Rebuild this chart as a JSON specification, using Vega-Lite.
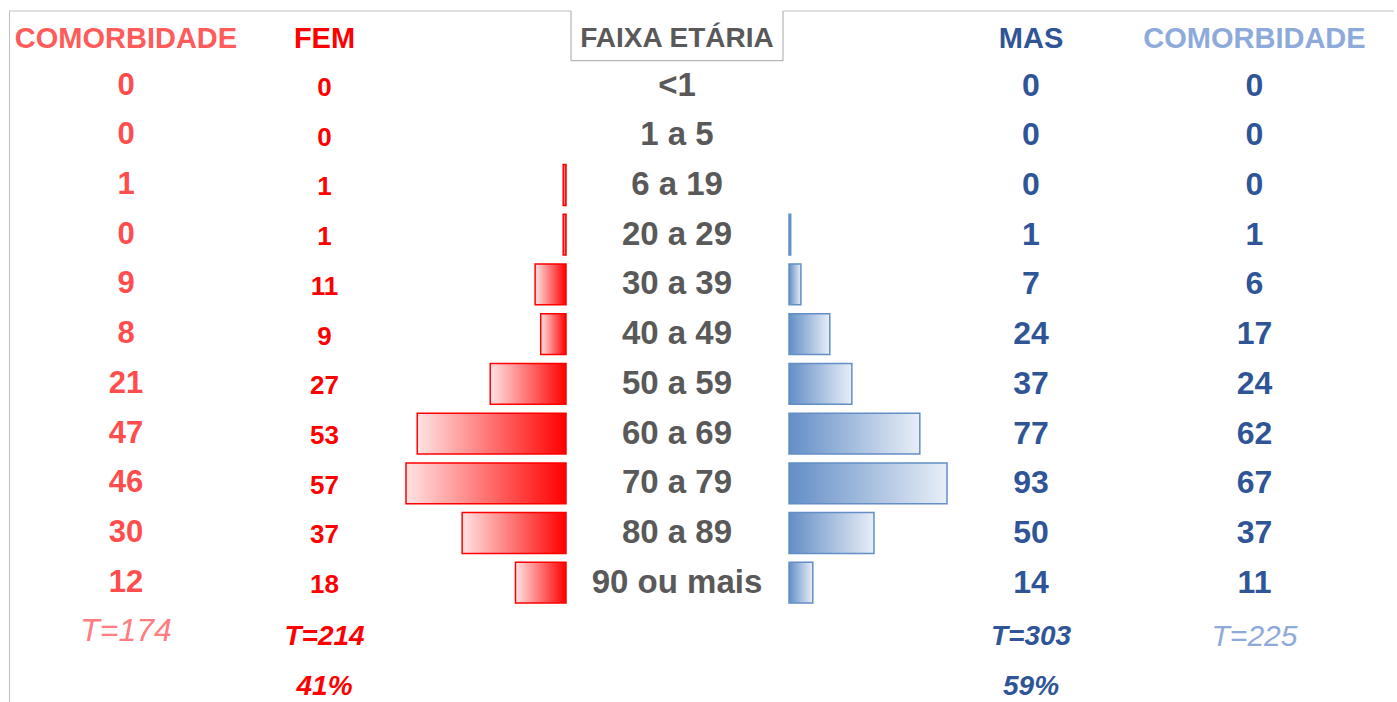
{
  "$schema": "https://vega.github.io/schema/vega-lite/v6.json",
  "padding": {"left": 8, "top": 10, "right": 0, "bottom": 0},
  "autosize": {"type": "pad"},
  "background": "white",
  "spacing": 0,
  "bounds": "flush",
  "config": {"view": {"stroke": null}, "text": {"font": "Liberation Sans"}},
  "datasets": {
    "ages": [
      {"faixa": "<1", "com_f": 0, "fem": 0, "mas": 0, "com_m": 0},
      {"faixa": "1 a 5", "com_f": 0, "fem": 0, "mas": 0, "com_m": 0},
      {"faixa": "6 a 19", "com_f": 1, "fem": 1, "mas": 0, "com_m": 0},
      {"faixa": "20 a 29", "com_f": 0, "fem": 1, "mas": 1, "com_m": 1},
      {"faixa": "30 a 39", "com_f": 9, "fem": 11, "mas": 7, "com_m": 6},
      {"faixa": "40 a 49", "com_f": 8, "fem": 9, "mas": 24, "com_m": 17},
      {"faixa": "50 a 59", "com_f": 21, "fem": 27, "mas": 37, "com_m": 24},
      {"faixa": "60 a 69", "com_f": 47, "fem": 53, "mas": 77, "com_m": 62},
      {"faixa": "70 a 79", "com_f": 46, "fem": 57, "mas": 93, "com_m": 67},
      {"faixa": "80 a 89", "com_f": 30, "fem": 37, "mas": 50, "com_m": 37},
      {"faixa": "90 ou mais", "com_f": 12, "fem": 18, "mas": 14, "com_m": 11}
    ],
    "labels": [
      {"row": "header", "col": "com_f", "label": "COMORBIDADE"},
      {"row": "header", "col": "fem", "label": "FEM"},
      {"row": "header", "col": "faixa", "label": "FAIXA ETÁRIA"},
      {"row": "header", "col": "mas", "label": "MAS"},
      {"row": "header", "col": "com_m", "label": "COMORBIDADE"},
      {"row": "T", "col": "com_f", "label": "T=174"},
      {"row": "T", "col": "fem", "label": "T=214"},
      {"row": "T", "col": "mas", "label": "T=303"},
      {"row": "T", "col": "com_m", "label": "T=225"},
      {"row": "pct", "col": "fem", "label": "41%"},
      {"row": "pct", "col": "mas", "label": "59%"}
    ]
  },
  "hconcat": [
    {
      "width": 234, "height": 696,
      "layer": [
        {
          "data": {"name": "labels"},
          "transform": [{"filter": "datum.col == 'com_f' && datum.row == 'header'"}],
          "mark": {"type": "rule", "color": "#bfbfbf", "strokeWidth": 1},
          "encoding": {"y": {"field": "row", "type": "nominal", "bandPosition": 0,
            "scale": {"domain": ["header","<1","1 a 5","6 a 19","20 a 29","30 a 39","40 a 49","50 a 59","60 a 69","70 a 79","80 a 89","90 ou mais","T","pct"], "paddingInner": 0, "paddingOuter": 0},
            "axis": {"domain": true, "domainColor": "#bfbfbf", "domainWidth": 1, "labels": false, "ticks": false, "grid": false, "title": null, "minExtent": 0, "maxExtent": 0}}}
        },
        {
          "data": {"name": "labels"},
          "transform": [{"filter": "datum.col == 'com_f' && datum.row == 'header'"}],
          "mark": {"type": "text", "fontSize": 29, "fontWeight": "bold", "color": "#ff5b5b"},
          "encoding": {"y": {"field": "row", "type": "nominal", "bandPosition": 0.56,
            "axis": {"domain": true, "domainColor": "#bfbfbf", "domainWidth": 1, "labels": false, "ticks": false, "grid": false, "title": null, "minExtent": 0, "maxExtent": 0}},
            "text": {"field": "label"}}
        },
        {
          "data": {"name": "ages"},
          "mark": {"type": "text", "fontSize": 31, "fontWeight": "bold", "color": "#ff4d4d"},
          "encoding": {"y": {"field": "faixa", "type": "nominal",
            "axis": {"domain": true, "domainColor": "#bfbfbf", "domainWidth": 1, "labels": false, "ticks": false, "grid": false, "title": null, "minExtent": 0, "maxExtent": 0}},
            "text": {"field": "com_f", "type": "quantitative"}}
        },
        {
          "data": {"name": "labels"},
          "transform": [{"filter": "datum.col == 'com_f' && datum.row == 'T'"}],
          "mark": {"type": "text", "fontSize": 32, "fontStyle": "italic", "color": "#ff7c80"},
          "encoding": {"y": {"field": "row", "type": "nominal", "bandPosition": 0.48,
            "axis": {"domain": true, "domainColor": "#bfbfbf", "domainWidth": 1, "labels": false, "ticks": false, "grid": false, "title": null, "minExtent": 0, "maxExtent": 0}},
            "text": {"field": "label"}}
        }
      ]
    },
    {
      "width": 163, "height": 696,
      "layer": [
        {
          "data": {"name": "labels"},
          "transform": [{"filter": "datum.col == 'fem' && datum.row == 'header'"}],
          "mark": {"type": "rule", "color": "#bfbfbf", "strokeWidth": 1},
          "encoding": {"y": {"field": "row", "type": "nominal", "bandPosition": 0,
            "scale": {"domain": ["header","<1","1 a 5","6 a 19","20 a 29","30 a 39","40 a 49","50 a 59","60 a 69","70 a 79","80 a 89","90 ou mais","T","pct"], "paddingInner": 0, "paddingOuter": 0},
            "axis": null}}
        },
        {
          "data": {"name": "labels"},
          "transform": [{"filter": "datum.col == 'fem' && datum.row == 'header'"}],
          "mark": {"type": "text", "fontSize": 29, "fontWeight": "bold", "color": "#ff0000"},
          "encoding": {"y": {"field": "row", "type": "nominal", "bandPosition": 0.56, "axis": null}, "text": {"field": "label"}}
        },
        {
          "data": {"name": "ages"},
          "mark": {"type": "text", "fontSize": 26, "fontWeight": "bold", "color": "#ff0000"},
          "encoding": {"y": {"field": "faixa", "type": "nominal", "bandPosition": 0.55, "axis": null}, "text": {"field": "fem", "type": "quantitative"}}
        },
        {
          "data": {"name": "labels"},
          "transform": [{"filter": "datum.col == 'fem' && datum.row != 'header'"}],
          "mark": {"type": "text", "fontSize": 28, "fontWeight": "bold", "fontStyle": "italic", "color": "#ff0000"},
          "encoding": {"y": {"field": "row", "type": "nominal", "bandPosition": 0.6, "axis": null}, "text": {"field": "label"}}
        }
      ]
    },
    {
      "width": 165, "height": 696,
      "layer": [
        {
          "data": {"name": "labels"},
          "transform": [{"filter": "datum.col == 'fem' && datum.row == 'header'"}],
          "mark": {"type": "rule", "color": "#bfbfbf", "strokeWidth": 1},
          "encoding": {"y": {"field": "row", "type": "nominal", "bandPosition": 0,
            "scale": {"domain": ["header","<1","1 a 5","6 a 19","20 a 29","30 a 39","40 a 49","50 a 59","60 a 69","70 a 79","80 a 89","90 ou mais","T","pct"], "paddingInner": 0, "paddingOuter": 0},
            "axis": null}}
        },
        {
          "data": {"name": "ages"},
          "transform": [{"filter": "datum.fem > 0"}],
          "mark": {"type": "bar", "height": {"band": 0.82}, "stroke": "#ff0000", "strokeWidth": 1.5,
            "fill": {"gradient": "linear", "x1": 0, "y1": 0, "x2": 1, "y2": 0, "stops": [{"offset": 0, "color": "#ffe3e3"}, {"offset": 1, "color": "#ff0000"}]}},
          "encoding": {
            "x": {"field": "fem", "type": "quantitative", "scale": {"domain": [0, 57], "range": [0, 160], "reverse": true, "nice": false, "zero": true}, "axis": null},
            "y": {"field": "faixa", "type": "nominal", "axis": null}
          }
        }
      ]
    },
    {
      "width": 212, "height": 696,
      "layer": [
        {
          "data": {"name": "labels"},
          "transform": [{"filter": "datum.col == 'faixa' && datum.row == 'header'"}],
          "mark": {"type": "rect", "fill": "transparent", "stroke": "#a6a6a6", "strokeWidth": 1, "strokeDash": [0, 212, 2000]},
          "encoding": {"y": {"field": "row", "type": "nominal",
            "scale": {"domain": ["header","<1","1 a 5","6 a 19","20 a 29","30 a 39","40 a 49","50 a 59","60 a 69","70 a 79","80 a 89","90 ou mais","T","pct"], "paddingInner": 0, "paddingOuter": 0},
            "axis": null}}
        },
        {
          "data": {"name": "labels"},
          "transform": [{"filter": "datum.col == 'faixa' && datum.row == 'header'"}],
          "mark": {"type": "text", "fontSize": 28, "fontWeight": "bold", "color": "#595959"},
          "encoding": {"y": {"field": "row", "type": "nominal", "bandPosition": 0.56, "axis": null}, "text": {"field": "label"}}
        },
        {
          "data": {"name": "ages"},
          "mark": {"type": "text", "fontSize": 33, "fontWeight": "bold", "color": "#595959"},
          "encoding": {"y": {"field": "faixa", "type": "nominal", "axis": null}, "text": {"field": "faixa"}}
        }
      ]
    },
    {
      "width": 164, "height": 696,
      "layer": [
        {
          "data": {"name": "labels"},
          "transform": [{"filter": "datum.col == 'mas' && datum.row == 'header'"}],
          "mark": {"type": "rule", "color": "#bfbfbf", "strokeWidth": 1},
          "encoding": {"y": {"field": "row", "type": "nominal", "bandPosition": 0,
            "scale": {"domain": ["header","<1","1 a 5","6 a 19","20 a 29","30 a 39","40 a 49","50 a 59","60 a 69","70 a 79","80 a 89","90 ou mais","T","pct"], "paddingInner": 0, "paddingOuter": 0},
            "axis": null}}
        },
        {
          "data": {"name": "ages"},
          "transform": [{"filter": "datum.mas > 0"}],
          "mark": {"type": "bar", "height": {"band": 0.82}, "stroke": "#638ec6", "strokeWidth": 1.5,
            "fill": {"gradient": "linear", "x1": 0, "y1": 0, "x2": 1, "y2": 0, "stops": [{"offset": 0, "color": "#638ec6"}, {"offset": 1, "color": "#e8eef7"}]}},
          "encoding": {
            "x": {"field": "mas", "type": "quantitative", "scale": {"domain": [0, 93], "range": [6, 164], "nice": false, "zero": true}, "axis": null},
            "y": {"field": "faixa", "type": "nominal", "axis": null}
          }
        }
      ]
    },
    {
      "width": 168, "height": 696,
      "layer": [
        {
          "data": {"name": "labels"},
          "transform": [{"filter": "datum.col == 'mas' && datum.row == 'header'"}],
          "mark": {"type": "rule", "color": "#bfbfbf", "strokeWidth": 1},
          "encoding": {"y": {"field": "row", "type": "nominal", "bandPosition": 0,
            "scale": {"domain": ["header","<1","1 a 5","6 a 19","20 a 29","30 a 39","40 a 49","50 a 59","60 a 69","70 a 79","80 a 89","90 ou mais","T","pct"], "paddingInner": 0, "paddingOuter": 0},
            "axis": null}}
        },
        {
          "data": {"name": "labels"},
          "transform": [{"filter": "datum.col == 'mas' && datum.row == 'header'"}],
          "mark": {"type": "text", "fontSize": 29, "fontWeight": "bold", "color": "#2f5597"},
          "encoding": {"y": {"field": "row", "type": "nominal", "bandPosition": 0.56, "axis": null}, "text": {"field": "label"}}
        },
        {
          "data": {"name": "ages"},
          "mark": {"type": "text", "fontSize": 32, "fontWeight": "bold", "color": "#2f5597"},
          "encoding": {"y": {"field": "faixa", "type": "nominal", "axis": null}, "text": {"field": "mas", "type": "quantitative"}}
        },
        {
          "data": {"name": "labels"},
          "transform": [{"filter": "datum.col == 'mas' && datum.row != 'header'"}],
          "mark": {"type": "text", "fontSize": 28, "fontWeight": "bold", "fontStyle": "italic", "color": "#2f5597"},
          "encoding": {"y": {"field": "row", "type": "nominal", "bandPosition": 0.6, "axis": null}, "text": {"field": "label"}}
        }
      ]
    },
    {
      "width": 279, "height": 696,
      "layer": [
        {
          "data": {"name": "labels"},
          "transform": [{"filter": "datum.col == 'com_m' && datum.row == 'header'"}],
          "mark": {"type": "rule", "color": "#bfbfbf", "strokeWidth": 1},
          "encoding": {"y": {"field": "row", "type": "nominal", "bandPosition": 0,
            "scale": {"domain": ["header","<1","1 a 5","6 a 19","20 a 29","30 a 39","40 a 49","50 a 59","60 a 69","70 a 79","80 a 89","90 ou mais","T","pct"], "paddingInner": 0, "paddingOuter": 0},
            "axis": null}}
        },
        {
          "data": {"name": "labels"},
          "transform": [{"filter": "datum.col == 'com_m' && datum.row == 'header'"}],
          "mark": {"type": "text", "fontSize": 29, "fontWeight": "bold", "color": "#8eaadb"},
          "encoding": {"y": {"field": "row", "type": "nominal", "bandPosition": 0.56, "axis": null}, "text": {"field": "label"}}
        },
        {
          "data": {"name": "ages"},
          "mark": {"type": "text", "fontSize": 32, "fontWeight": "bold", "color": "#2f5597"},
          "encoding": {"y": {"field": "faixa", "type": "nominal", "axis": null}, "text": {"field": "com_m", "type": "quantitative"}}
        },
        {
          "data": {"name": "labels"},
          "transform": [{"filter": "datum.col == 'com_m' && datum.row == 'T'"}],
          "mark": {"type": "text", "fontSize": 30, "fontStyle": "italic", "color": "#8eaadb"},
          "encoding": {"y": {"field": "row", "type": "nominal", "bandPosition": 0.6, "axis": null}, "text": {"field": "label"}}
        }
      ]
    }
  ]
}
